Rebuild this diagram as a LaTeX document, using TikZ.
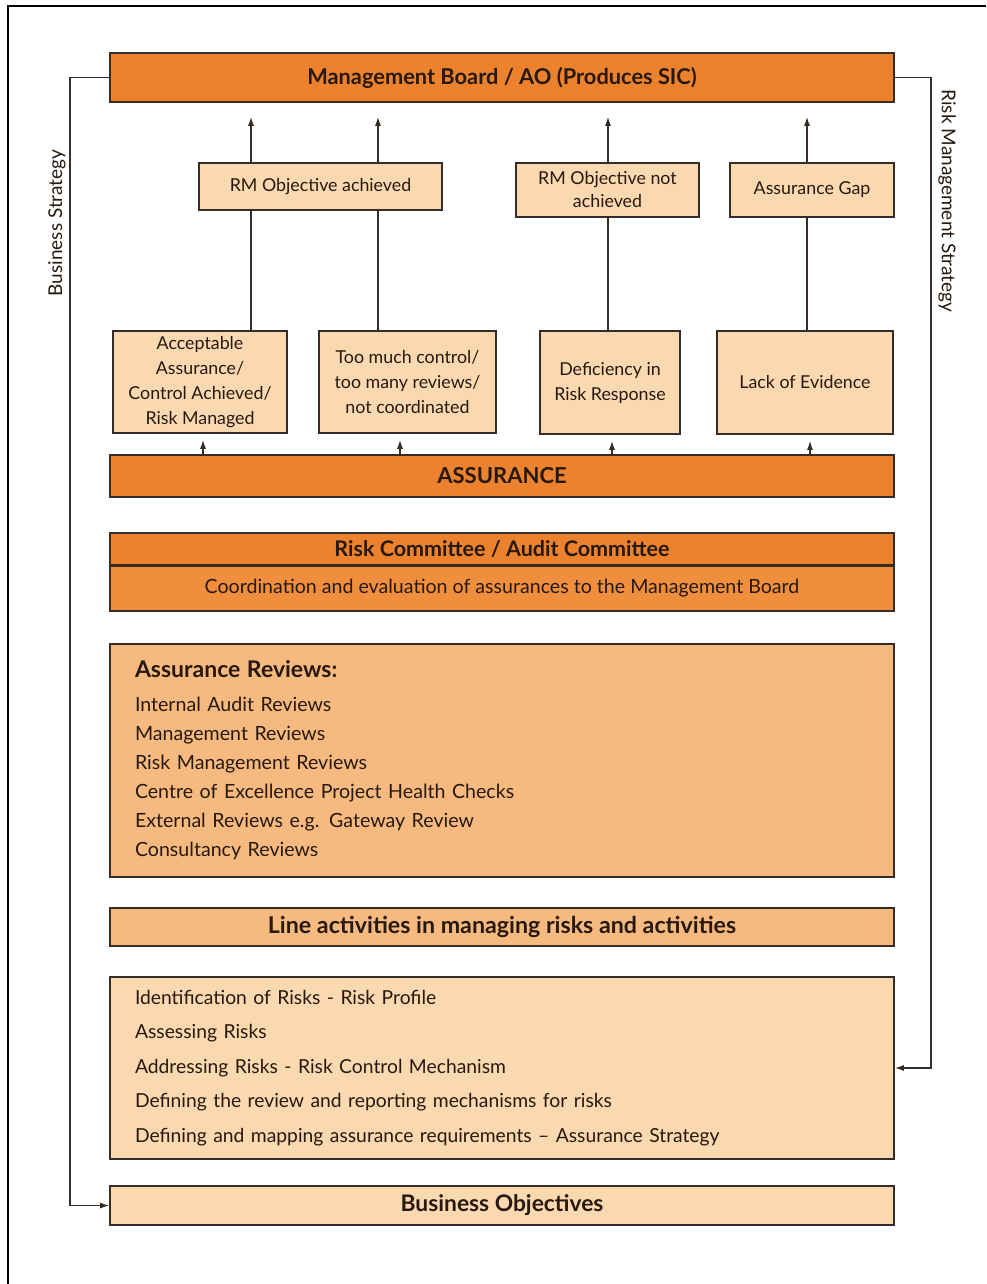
\documentclass[tikz,border=0pt]{standalone}
\usepackage{fontspec}
\setmainfont{Lato}
\usetikzlibrary{arrows.meta}
\definecolor{darkor}{RGB}{236,130,45}
\definecolor{midor}{RGB}{239,143,62}
\definecolor{softor}{RGB}{246,186,128}
\definecolor{paleor}{RGB}{250,216,176}
\definecolor{edge}{RGB}{55,45,40}
\definecolor{ink}{RGB}{40,25,15}
\begin{document}
\begin{tikzpicture}[x=1pt,y=-1pt,
  box/.style={draw=edge, line width=1.6pt, inner sep=0pt, text=ink, align=center},
  band/.style={box, minimum width=784pt},
  small/.style={box, fill=paleor, font=\fontsize{17.8}{25}\selectfont},
  link/.style={draw=edge, line width=1.3pt},
  tip/.style={link, -{Latex[length=9pt,width=6pt]}},
  side/.style={text=ink, font=\fontsize{19}{22}\selectfont},
]
\useasboundingbox (0,0) rectangle (986,1284);
% outer frame
\draw[line width=1.8pt, black] (8,1284) -- (8,6) -- (986,6);

% top band
\node[band, fill=darkor, minimum height=49pt, font=\bfseries\fontsize{21.8}{24}\selectfont]
  (mb) at (502,77.5) {Management Board / AO (Produces SIC)};

% outcome boxes
\node[small, minimum width=243pt, minimum height=47pt] (rmA) at (320.5,186.5) {RM Objective achieved};
\node[small, minimum width=183pt, minimum height=54pt, font=\fontsize{17.8}{23}\selectfont] (rmN) at (607.5,190) {RM Objective not\\achieved};
\node[small, minimum width=164pt, minimum height=54pt] (gap) at (812,190) {Assurance Gap};

% finding boxes
\node[small, minimum width=174pt, minimum height=102pt] (acc) at (200,382) {Acceptable\\Assurance/\\Control Achieved/\\Risk Managed};
\node[small, minimum width=177pt, minimum height=102pt] (too) at (407.5,382) {Too much control/\\too many reviews/\\not coordinated};
\node[small, minimum width=140pt, minimum height=103pt] (def) at (610,382.5) {Deficiency in\\Risk Response};
\node[small, minimum width=176pt, minimum height=103pt] (lack) at (805,382.5) {Lack of Evidence};

% assurance band
\node[band, fill=darkor, minimum height=42pt, font=\bfseries\fontsize{22}{24}\selectfont]
  (assur) at (502,476) {ASSURANCE};

% committee
\node[band, fill=darkor, minimum height=32pt, font=\bfseries\fontsize{21.5}{24}\selectfont]
  (rc) at (502,549) {Risk Committee / Audit Committee};
\node[band, fill=midor, minimum height=46pt, font=\fontsize{19.6}{22}\selectfont]
  (coord) at (502,588) {Coordination and evaluation of assurances to the Management Board};
\draw[edge, line width=2.6pt] (rc.south west) -- (rc.south east);

% assurance reviews
\node[band, fill=softor, minimum height=233pt, align=left, text width=734pt,
  inner xsep=25pt, font=\fontsize{19.6}{29}\selectfont] (rev) at (502,760.5)
  {{\bfseries\fontsize{23}{29}\selectfont Assurance Reviews:}\\[5pt]
   Internal Audit Reviews\\
   Management Reviews\\
   Risk Management Reviews\\
   Centre of Excellence Project Health Checks\\
   External Reviews e.g. Gateway Review\\
   Consultancy Reviews};

% line activities
\node[band, fill=softor, minimum height=38pt, font=\bfseries\fontsize{23.2}{26}\selectfont]
  (line) at (502,927) {Line activities in managing risks and activities};
\node[band, fill=paleor, minimum height=182pt, align=left, text width=734pt,
  inner xsep=25pt, font=\fontsize{19.3}{34.5}\selectfont] (lower) at (502,1068)
  {Identification of Risks - Risk Profile\\
   Assessing Risks\\
   Addressing Risks - Risk Control Mechanism\\
   Defining the review and reporting mechanisms for risks\\
   Defining and mapping assurance requirements -- Assurance Strategy};

% business objectives
\node[band, fill=paleor, minimum height=39pt, font=\bfseries\fontsize{22.8}{26}\selectfont]
  (bo) at (502,1205.5) {Business Objectives};

% column positions
\coordinate (c1) at (251,0);
\coordinate (c2) at (378,0);
\coordinate (c3) at (608,0);
\coordinate (c4) at (807,0);
\coordinate (d1) at (203,0);
\coordinate (d2) at (400,0);
\coordinate (d3) at (612,0);
\coordinate (d4) at (810,0);
\coordinate (lx) at (70,0);
\coordinate (rx) at (931,0);

% findings to outcomes to board
\draw[link] (acc.north -| c1) -- (rmA.south -| c1);
\draw[link] (too.north -| c2) -- (rmA.south -| c2);
\draw[link] (def.north -| c3) -- (rmN.south -| c3);
\draw[link] (lack.north -| c4) -- (gap.south -| c4);
\draw[tip, shorten >=14pt] (rmA.north -| c1) -- (mb.south -| c1);
\draw[tip, shorten >=14pt] (rmA.north -| c2) -- (mb.south -| c2);
\draw[tip, shorten >=14pt] (rmN.north -| c3) -- (mb.south -| c3);
\draw[tip, shorten >=14pt] (gap.north -| c4) -- (mb.south -| c4);

% assurance feeding the findings
\draw[tip, shorten >=6pt] (assur.north -| d1) -- (acc.south -| d1);
\draw[tip, shorten >=6pt] (assur.north -| d2) -- (too.south -| d2);
\draw[tip, shorten >=6pt] (assur.north -| d3) -- (def.south -| d3);
\draw[tip, shorten >=6pt] (assur.north -| d4) -- (lack.south -| d4);

% strategy loops
\draw[tip] (mb.west) -- (mb.west -| lx) |- (bo.west);
\draw[tip] (mb.east) -- (mb.east -| rx) |- (lower.east);
\node[side, rotate=90] (bs) at (57,223) {Business Strategy};
\node[side, rotate=-90] (rms) at (947,201) {Risk Management Strategy};
\end{tikzpicture}
\end{document}
